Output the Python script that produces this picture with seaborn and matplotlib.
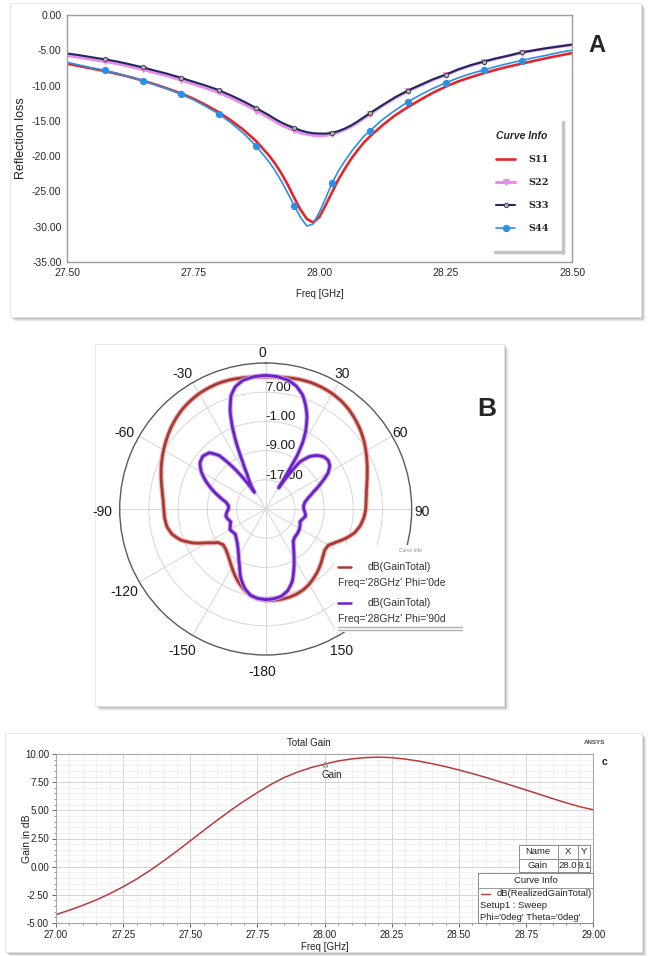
import numpy as np
import matplotlib
matplotlib.use("Agg")
import matplotlib.pyplot as plt
import seaborn as sns
from matplotlib.patches import Rectangle
from matplotlib.lines import Line2D
from matplotlib.ticker import MultipleLocator, FixedLocator, FormatStrFormatter
import matplotlib.patheffects as pe

# ---------------- Panel A: reflection coefficients of the four ports ----------------
freq_a = [27.500, 27.525, 27.550, 27.575, 27.600, 27.625, 27.650, 27.675, 27.700,
          27.725, 27.750, 27.775, 27.800, 27.825, 27.850, 27.875, 27.900,
          27.9125, 27.925, 27.9375, 27.950, 27.9625, 27.975, 27.9875, 28.000,
          28.0125, 28.025, 28.0375, 28.050, 28.0625, 28.075, 28.0875, 28.100,
          28.125, 28.150, 28.175, 28.200, 28.225, 28.250, 28.275, 28.300,
          28.325, 28.350, 28.375, 28.400, 28.425, 28.450, 28.475, 28.500]
s11 = [-6.9, -7.25, -7.6, -7.95, -8.35, -8.8, -9.3, -9.85, -10.45,
       -11.1, -11.85, -12.75, -13.75, -14.95, -16.3, -17.9, -19.9,
       -21.1, -22.5, -24.1, -25.9, -27.6, -28.9, -29.4, -28.6,
       -26.9, -25.1, -23.3, -21.8, -20.4, -19.2, -18.1, -17.2,
       -15.6, -14.2, -13.05, -12.0, -11.0, -10.15, -9.4, -8.8,
       -8.25, -7.75, -7.3, -6.9, -6.5, -6.1, -5.75, -5.4]
s22 = [-5.75, -6.0, -6.3, -6.58, -6.9, -7.3, -7.72, -8.2, -8.65,
       -9.2, -9.77, -10.35, -10.98, -11.75, -12.6, -13.55, -14.55,
       -15.1, -15.6, -16.0, -16.35, -16.7, -16.9, -17.05, -17.1,
       -17.05, -16.9, -16.6, -16.25, -15.8, -15.25, -14.65, -14.05,
       -12.85, -11.75, -10.8, -9.98, -9.18, -8.5, -7.75, -7.15,
       -6.63, -6.17, -5.77, -5.33, -5.02, -4.72, -4.46, -4.21]
s33 = [-5.45, -5.7, -6.0, -6.28, -6.6, -7.0, -7.42, -7.9, -8.35,
       -8.88, -9.45, -10.0, -10.63, -11.4, -12.25, -13.2, -14.2,
       -14.75, -15.25, -15.65, -16.0, -16.35, -16.6, -16.75, -16.8,
       -16.8, -16.7, -16.45, -16.1, -15.65, -15.1, -14.5, -13.9,
       -12.75, -11.65, -10.7, -9.9, -9.1, -8.45, -7.7, -7.1,
       -6.6, -6.15, -5.75, -5.3, -5.0, -4.7, -4.45, -4.2]
s44 = [-6.7, -7.1, -7.5, -7.85, -8.3, -8.8, -9.3, -9.9, -10.5,
       -11.2, -12.0, -12.95, -14.0, -15.3, -16.8, -18.6, -20.8,
       -22.1, -23.6, -25.3, -27.0, -28.7, -29.9, -29.6, -27.9,
       -25.9, -23.8, -22.1, -20.7, -19.4, -18.3, -17.2, -16.4,
       -14.8, -13.5, -12.3, -11.3, -10.4, -9.6, -8.9, -8.3,
       -7.8, -7.3, -6.85, -6.45, -6.05, -5.7, -5.3, -5.0]
series_a = ["S11", "S22", "S33", "S44"]

# ---------------- Panel B: radiation pattern at 28 GHz (dB) ----------------
theta_phi0 = [-180, -175, -170, -165, -160, -155, -150, -145, -140, -135,
              -130, -125, -120, -115, -110, -105, -100, -95, -90, -85,
              -80, -75, -70, -65, -60, -55, -50, -45, -40, -35,
              -30, -25, -20, -15, -10, -5, 0, 5, 10, 15,
              20, 25, 30, 35, 40, 45, 50, 55, 60, 65,
              70, 75, 80, 85, 90, 95, 100, 105, 110, 115,
              120, 125, 130, 135, 140, 145, 150, 155, 160, 165,
              170, 175, 180]
gain_phi0 = [0.0, -0.3, -1.0, -2.1, -3.5, -5.0, -6.5, -7.8, -8.8, -9.5,
             -9.8, -9.0, -6.5, -3.0, -0.2, 1.6, 2.5, 2.8, 2.9, 3.2,
             3.8, 4.6, 5.5, 6.4, 7.3, 8.2, 9.1, 9.9, 10.6, 11.1,
             11.5, 11.7, 11.8, 11.7, 11.5, 11.3, 11.2, 11.3, 11.5, 11.7,
             11.8, 11.7, 11.5, 11.1, 10.5, 9.7, 8.8, 7.8, 6.7, 5.6,
             4.6, 3.7, 3.0, 2.6, 2.4, 2.0, 1.3, 0.2, -1.6, -3.6,
             -5.2, -5.3, -4.6, -3.7, -2.8, -2.0, -1.2, -0.6, -0.2, 0.0,
             0.1, 0.1, 0.0]
theta_phi90 = [-180, -175, -170, -165, -160, -155, -150, -145, -140, -135,
               -130, -125, -120, -115, -110, -105, -100, -95, -90, -85,
               -80, -75, -70, -65, -60, -55, -50, -45, -41, -38,
               -36, -34, -31, -28, -26, -24, -22, -20, -17, -14,
               -10, -5, 0, 5, 10, 14, 18, 21, 24, 27,
               29, 30.5, 31.5, 33, 36, 40, 44, 48, 52, 56,
               60, 65, 70, 75, 80, 85, 90, 95, 100, 105,
               110, 115, 120, 125, 130, 135, 140, 145, 150, 155,
               160, 165, 170, 175, 180]
gain_phi90 = [-0.2, -0.4, -1.0, -2.6, -5.0, -8.0, -10.2, -11.8, -12.9, -13.6,
              -14.2, -14.0, -13.7, -14.3, -14.8, -14.3, -13.9, -14.3, -14.8, -14.8,
              -13.9, -11.8, -9.4, -6.9, -4.6, -3.0, -2.5, -3.2, -5.6, -10.5,
              -14.5, -19.5, -16.8, -14.0, -10.5, -5.3, -0.5, 3.5, 7.5, 9.5,
              10.8, 11.4, 11.6, 11.4, 10.8, 9.7, 7.8, 5.5, 2.8, -0.8,
              -4.0, -8.0, -18.2, -15.5, -9.0, -6.2, -4.6, -3.6, -3.3, -3.8,
              -5.3, -8.3, -11.0, -12.9, -14.1, -14.6, -14.6, -14.2, -13.9, -14.5,
              -15.0, -14.6, -14.3, -14.1, -14.0, -13.9, -13.3, -11.7, -9.5, -6.8,
              -3.8, -1.8, -0.7, -0.3, -0.2]
ring_levels = [-17, -9, -1, 7]
r_min, r_max = -25, 15
angle_ticks = [0, 30, 60, 90, 120, 150, 180, 210, 240, 270, 300, 330]
angle_labels = ["0", "30", "60", "90", "", "150", "-180", "-150", "-120", "-90", "-60", "-30"]
pattern_labels = ["dB(GainTotal)", "dB(GainTotal)"]
pattern_cuts = ["Freq='28GHz' Phi='0de", "Freq='28GHz' Phi='90d"]

# ---------------- Panel C: realized gain versus frequency ----------------
freq_c = [27.00, 27.05, 27.10, 27.15, 27.20, 27.25, 27.30, 27.35, 27.40, 27.45,
          27.50, 27.55, 27.60, 27.65, 27.70, 27.75, 27.80, 27.85, 27.90, 27.95,
          28.00, 28.05, 28.10, 28.15, 28.20, 28.25, 28.30, 28.35, 28.40, 28.45,
          28.50, 28.55, 28.60, 28.65, 28.70, 28.75, 28.80, 28.85, 28.90, 28.95,
          29.00]
gain_c = [-4.26, -3.86, -3.43, -2.95, -2.40, -1.78, -1.10, -0.33, 0.50, 1.38,
          2.30, 3.22, 4.12, 5.00, 5.82, 6.58, 7.30, 7.92, 8.40, 8.80,
          9.10, 9.38, 9.56, 9.68, 9.72, 9.68, 9.55, 9.37, 9.14, 8.88,
          8.58, 8.26, 7.92, 7.56, 7.18, 6.80, 6.42, 6.03, 5.66, 5.32,
          5.05]
marker_name = "Gain"
marker_x = 28.0
marker_y = 9.1

# ---------------- styling ----------------
W, H = 651, 956
sns.set_style("white")
plt.rcParams["font.family"] = ["Liberation Sans", "DejaVu Sans"]
plt.rcParams["axes.unicode_minus"] = False

C11, C22, C33, C44 = "#e3262b", "#e98be9", "#1d2b5c", "#2b8fe6"
C_PHI0, C_PHI90 = "#a83a36", "#6b23c6"
C_GAIN = "#b93b3b"

fig = plt.figure(figsize=(W / 100, H / 100), dpi=100)
fig.patch.set_facecolor("white")


def fx(px):
    return px / W


def fy(py):
    return 1 - py / H


def card(x0, y0, x1, y1):
    """White panel with a soft grey drop shadow."""
    for k, a in [(5, 0.06), (4, 0.10), (3, 0.16), (2, 0.22), (1, 0.30)]:
        fig.add_artist(Rectangle((fx(x0 + k), fy(y1 + k)), (x1 - x0) / W, (y1 - y0) / H,
                                 transform=fig.transFigure, facecolor="#6e6e6e", alpha=a,
                                 edgecolor="none", zorder=-10))
    fig.add_artist(Rectangle((fx(x0), fy(y1)), (x1 - x0) / W, (y1 - y0) / H,
                             transform=fig.transFigure, facecolor="white",
                             edgecolor="#e4e4e4", lw=0.6, zorder=-9))


def fline(xs, ys, **kw):
    fig.add_artist(Line2D([fx(v) for v in xs], [fy(v) for v in ys],
                          transform=fig.transFigure, **kw))


def frect(x0, y0, x1, y1, **kw):
    fig.add_artist(Rectangle((fx(x0), fy(y1)), (x1 - x0) / W, (y1 - y0) / H,
                             transform=fig.transFigure, **kw))


card(10, 3, 641, 317)
card(95, 344, 504, 706)
card(5, 733, 642, 952)

# ================= Panel A =================
axA = fig.add_axes([fx(67), fy(262), (572 - 67) / W, (262 - 15) / H])
axA.set_facecolor("white")
mark_idx = [i for i, f in enumerate(freq_a)
            if 27.57 < f < 28.41 and np.isclose((f - 27.575) / 0.075, round((f - 27.575) / 0.075))]

sns.lineplot(x=freq_a, y=s11, ax=axA, color=C11, lw=1.9, estimator=None, sort=False)
sns.lineplot(x=freq_a, y=s22, ax=axA, color=C22, lw=2.2, estimator=None, sort=False,
             marker="v", markevery=mark_idx, ms=5, mfc=C22, mec=C22)
sns.lineplot(x=freq_a, y=s33, ax=axA, color=C33, lw=1.5, estimator=None, sort=False,
             marker="o", markevery=mark_idx, ms=3.2, mfc="#b0b0b0", mec="#3a3a3a", mew=0.6)
sns.lineplot(x=freq_a, y=s44, ax=axA, color=C44, lw=1.2, estimator=None, sort=False,
             marker="o", markevery=mark_idx, ms=4.5, mfc=C44, mec=C44)

axA.set_xlim(27.5, 28.5)
axA.set_ylim(-35, 0)
axA.xaxis.set_major_locator(MultipleLocator(0.25))
axA.xaxis.set_minor_locator(MultipleLocator(0.05))
axA.yaxis.set_major_locator(MultipleLocator(5))
axA.yaxis.set_minor_locator(MultipleLocator(1))
axA.xaxis.set_major_formatter(FormatStrFormatter("%.2f"))
axA.yaxis.set_major_formatter(FormatStrFormatter("%.2f"))
axA.tick_params(which="both", direction="in", color="#777", labelcolor="#2a2a2a",
                labelsize=7.5)
axA.tick_params(which="major", length=4, width=0.8, pad=4)
axA.tick_params(which="minor", length=2, width=0.6)
for s in axA.spines.values():
    s.set_color("#9c9c9c")
    s.set_linewidth(1.0)
axA.set_ylabel("Reflection loss", fontsize=9, color="#222")
axA.set_xlabel("Freq [GHz]", fontsize=7, color="#222")
axA.yaxis.set_label_coords(-0.08, 0.5)
axA.xaxis.set_label_coords(0.5, -0.11)

leg = axA.legend(axA.get_lines()[:4], series_a, title="Curve Info", loc="upper left",
                 bbox_to_anchor=((489 - 67) / 505, (262 - 124) / 247), frameon=False,
                 prop=dict(family="DejaVu Serif", weight="bold", size=7),
                 title_fontproperties=dict(style="italic", weight="bold", size=7.5),
                 labelspacing=1.45, handlelength=2.0, handletextpad=1.3, borderpad=0.2)
fline([563, 563], [122, 253], color="#c4c4c4", lw=2.5, zorder=5)
fline([495, 563], [252, 252], color="#c4c4c4", lw=2.5, zorder=5)
fig.text(fx(597), fy(46), "A", fontsize=17, fontweight="bold", ha="center", va="center")

# ================= Panel B =================
cx, cy, rad = 265.7, 509, 146
axB = fig.add_axes([fx(cx - rad), fy(cy + rad), 2 * rad / W, 2 * rad / H], projection="polar")
axB.set_theta_zero_location("N")
axB.set_theta_direction(-1)
axB.set_ylim(r_min, r_max)

sns.lineplot(x=np.deg2rad(theta_phi0), y=gain_phi0, ax=axB, color=C_PHI0, lw=2.0,
             estimator=None, sort=False,
             path_effects=[pe.Stroke(linewidth=3.6, foreground="#f0b4b4"), pe.Normal()])
sns.lineplot(x=np.deg2rad(theta_phi90), y=gain_phi90, ax=axB, color=C_PHI90, lw=2.0,
             estimator=None, sort=False,
             path_effects=[pe.Stroke(linewidth=3.4, foreground="#c8a6ee"), pe.Normal()])
# follow the polar grid between samples instead of straight chords
for ln in axB.get_lines():
    ln.get_path()._interpolation_steps = 12

axB.set_yticks(ring_levels)
axB.set_yticklabels([])
axB.set_xticks(np.deg2rad(angle_ticks))
axB.set_xticklabels([])
axB.xaxis.set_minor_locator(FixedLocator(np.deg2rad(np.arange(0, 360, 5))))
axB.tick_params(axis="x", which="major", direction="in", length=6, width=0.8, color="#555")
axB.tick_params(axis="x", which="minor", direction="in", length=3, width=0.6, color="#555")
axB.grid(True, color="#d6d6d6", lw=0.7)
axB.spines["polar"].set_color("#5a5a5a")
axB.spines["polar"].set_linewidth(1.0)
axB.set_xlabel("")
axB.set_ylabel("")
px2pt = 0.72
for ang, lab in zip(angle_ticks, angle_labels):
    if not lab:
        continue
    a = np.deg2rad(ang)
    dx = (13.5 * np.sin(a) - 3.5) * px2pt
    dy = (13.5 * np.cos(a) - 3.5) * px2pt
    axB.annotate(lab, xy=(a, r_max), xytext=(dx, dy), textcoords="offset points",
                 ha="center", va="center", fontsize=10, color="#1a1a1a",
                 annotation_clip=False)
for lev in ring_levels:
    axB.annotate(f"{lev:.2f}", xy=(0, lev), xytext=(0, 3), textcoords="offset points",
                 ha="left", va="center", fontsize=9.5, color="#1a1a1a", zorder=1.5)

# legend of panel B
frect(335, 545, 492, 632, facecolor="white", edgecolor="none", zorder=5)
fig.text(fx(410), fy(551), "Curve Info", fontsize=3.5, color="#8a8a8a", ha="center",
         va="center", zorder=6)
for i, (lab, cut, col) in enumerate(zip(pattern_labels, pattern_cuts, [C_PHI0, C_PHI90])):
    y0 = 567 + 36 * i
    fline([338, 351], [y0, y0], color=col, lw=1.8, zorder=6)
    fig.text(fx(368), fy(y0), lab, fontsize=7.5, color="#333", va="center", zorder=6)
    fig.text(fx(338), fy(y0 + 16), cut, fontsize=7.5, color="#333", va="center", zorder=6)
fline([338, 462], [627, 627], color="#b0b0b0", lw=1.0, zorder=6)
fline([338, 462], [629.5, 629.5], color="#b0b0b0", lw=1.0, zorder=6)
fig.text(fx(487), fy(409), "B", fontsize=19, fontweight="bold", ha="center", va="center")

# ================= Panel C =================
axC = fig.add_axes([fx(56), fy(923), (593.3 - 56) / W, (923 - 754) / H])
axC.set_facecolor("white")
sns.lineplot(x=freq_c, y=gain_c, ax=axC, color=C_GAIN, lw=1.1, estimator=None, sort=False)
axC.plot([marker_x], [marker_y], marker="^", ms=3.5, mfc="none", mec="#8a8a8a", mew=0.7, ls="none")
axC.annotate(marker_name, xy=(marker_x, marker_y), xytext=(-2, -8), textcoords="offset points",
             ha="left", va="center", fontsize=7, color="#222")
axC.set_xlim(27.0, 29.0)
axC.set_ylim(-5, 10)
axC.xaxis.set_major_locator(MultipleLocator(0.25))
axC.xaxis.set_minor_locator(MultipleLocator(0.05))
axC.yaxis.set_major_locator(MultipleLocator(2.5))
axC.yaxis.set_minor_locator(MultipleLocator(0.5))
axC.xaxis.set_major_formatter(FormatStrFormatter("%.2f"))
axC.yaxis.set_major_formatter(FormatStrFormatter("%.2f"))
axC.grid(True, which="major", color="#d4d4d4", lw=0.7)
axC.grid(True, which="minor", color="#ececec", lw=0.5)
axC.set_axisbelow(True)
axC.tick_params(which="both", direction="out", color="#666", labelcolor="#222", labelsize=7,
                bottom=True, left=True)
axC.tick_params(which="major", length=3, width=0.7, pad=2)
axC.tick_params(which="minor", length=1.5, width=0.5)
for s in axC.spines.values():
    s.set_color("#a8a8a8")
    s.set_linewidth(0.8)
axC.set_xlabel("Freq [GHz]", fontsize=7, color="#222")
axC.set_ylabel("Gain in dB", fontsize=7.5, color="#222")
axC.yaxis.set_label_coords(-0.045, 0.5)
axC.xaxis.set_label_coords(0.5, -0.115)
fig.text(fx(309), fy(743), "Total Gain", fontsize=7, color="#222", ha="center", va="center")
fig.text(fx(594), fy(742), "ANSYS", fontsize=4.5, fontweight="bold", color="#444",
         ha="center", va="center")
fig.text(fx(605), fy(762), "c", fontsize=7.5, fontweight="bold", color="#222",
         ha="center", va="center")

# marker table
tb = dict(fontsize=6.8, color="#222", ha="center", va="center", zorder=8)
frect(519, 845, 590, 872, facecolor="white", edgecolor="#8c8c8c", lw=0.7, zorder=7)
fline([519, 590], [858.5, 858.5], color="#8c8c8c", lw=0.7, zorder=8)
fline([557.5, 557.5], [845, 872], color="#8c8c8c", lw=0.7, zorder=8)
fline([578, 578], [845, 872], color="#8c8c8c", lw=0.7, zorder=8)
fig.text(fx(538), fy(851.5), "Name", **tb)
fig.text(fx(568), fy(851.5), "X", **tb)
fig.text(fx(584), fy(851.5), "Y", **tb)
fig.text(fx(538), fy(865), marker_name, **tb)
fig.text(fx(568), fy(865), f"{marker_x:.1f}", **tb)
fig.text(fx(584), fy(865), f"{marker_y:.1f}", **tb)

# curve info box
frect(478, 873, 593, 923, facecolor="white", edgecolor="#8c8c8c", lw=0.7, zorder=7)
fline([478, 593], [887.5, 887.5], color="#8c8c8c", lw=0.6, zorder=8)
fig.text(fx(535.5), fy(880.5), "Curve Info", **tb)
fline([481, 490], [894, 894], color=C_GAIN, lw=1.0, zorder=8)
fig.text(fx(497), fy(894), "dB(RealizedGainTotal)", fontsize=6.8, color="#222",
         va="center", zorder=8)
fig.text(fx(479.5), fy(905.5), "Setup1 : Sweep", fontsize=6.8, color="#222",
         va="center", zorder=8)
fig.text(fx(479.5), fy(917.5), "Phi='0deg' Theta='0deg'", fontsize=6.8, color="#222",
         va="center", zorder=8)

fig.savefig("out.png", dpi=100, facecolor="white")
